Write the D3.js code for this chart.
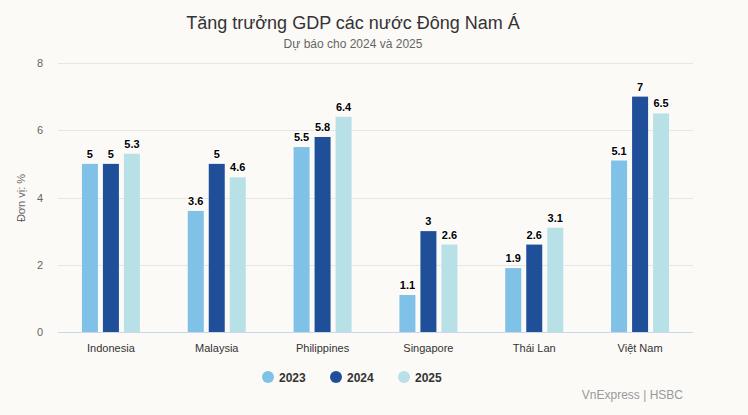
<!DOCTYPE html>
<html><head><meta charset="utf-8">
<script src="https://cdn.jsdelivr.net/npm/d3@7"></script>
<style>
html,body{margin:0;padding:0;background:#fbfaf7;}
svg{display:block;font-family:"Liberation Sans",Arial,sans-serif;}
</style></head>
<body><svg id="c" width="748" height="415"></svg>
<script>
const categories = ["Indonesia","Malaysia","Philippines","Singapore","Thái Lan","Việt Nam"];
const seriesNames = ["2023","2024","2025"];
const v2023 = [5,3.6,5.5,1.1,1.9,5.1];
const v2024 = [5,5,5.8,3,2.6,7];
const v2025 = [5.3,4.6,6.4,2.6,3.1,6.5];
const yTicks = [0,2,4,6,8];
const colors = ["#7fc1e7","#1f4f99","#b7e1e7"];
const series = [v2023,v2024,v2025];

const svg = d3.select("#c");
svg.append("rect").attr("width",748).attr("height",415).attr("fill","#fbfaf7");
const m = {l:58,r:693,t:63,b:332};
const x = d3.scaleBand().domain(categories).range([m.l,m.r]);
const y = d3.scaleLinear().domain([0,8]).range([m.b,m.t]);
const c = x.bandwidth()/2;
const xs = d3.scaleBand().domain(seriesNames).range([c-29,c+29]).paddingInner(0.238).paddingOuter(0);

// title
svg.append("text").attr("x",353).attr("y",29).attr("text-anchor","middle").attr("font-size",18).attr("fill","#333").text("Tăng trưởng GDP các nước Đông Nam Á");
svg.append("text").attr("x",353).attr("y",48).attr("text-anchor","middle").attr("font-size",12).attr("fill","#666").text("Dự báo cho 2024 và 2025");

// grid
const g = svg.append("g");
g.selectAll("line.grid").data(yTicks.filter(d=>d>0)).join("line")
 .attr("x1",m.l).attr("x2",m.r).attr("y1",d=>Math.round(y(d))+0.5).attr("y2",d=>Math.round(y(d))+0.5)
 .attr("stroke","#e6e6e6");
g.selectAll("text.yt").data(yTicks).join("text")
 .attr("x",43).attr("y",d=>y(d)+4).attr("text-anchor","end").attr("font-size",11).attr("fill","#666").text(d=>d);
svg.append("text").attr("transform","translate(25,198) rotate(-90)").attr("text-anchor","middle").attr("font-size",11).attr("fill","#666").text("Đơn vị: %");

// bars
series.forEach((vals,si)=>{
  const sg = svg.append("g");
  sg.selectAll("rect").data(vals).join("rect")
   .attr("x",(d,i)=>x(categories[i])+xs(seriesNames[si]))
   .attr("width",xs.bandwidth())
   .attr("y",d=>y(d)).attr("height",d=>y(0)-y(d))
   .attr("fill",colors[si]);
  sg.selectAll("text").data(vals).join("text")
   .attr("x",(d,i)=>x(categories[i])+xs(seriesNames[si])+xs.bandwidth()/2)
   .attr("y",d=>y(d)-6).attr("text-anchor","middle").attr("font-size",11).attr("font-weight","bold")
   .attr("fill","#000").attr("stroke","#fff").attr("stroke-width",2).attr("paint-order","stroke").attr("stroke-linejoin","round")
   .text(d=>d);
});

// x axis
svg.append("line").attr("x1",m.l).attr("x2",m.r).attr("y1",m.b+0.5).attr("y2",m.b+0.5).attr("stroke","#ccd6eb");
svg.selectAll("text.xl").data(categories).join("text")
 .attr("x",d=>x(d)+x.bandwidth()/2).attr("y",352).attr("text-anchor","middle").attr("font-size",11).attr("fill","#333").text(d=>d);

// legend
const lx = [268,336,404];
seriesNames.forEach((s,i)=>{
  svg.append("circle").attr("cx",lx[i]).attr("cy",377).attr("r",6).attr("fill",colors[i]);
  svg.append("text").attr("x",lx[i]+11).attr("y",381.5).attr("font-size",12).attr("font-weight","bold").attr("fill","#333").text(s);
});
svg.append("text").attr("x",683).attr("y",399).attr("text-anchor","end").attr("font-size",12).attr("fill","#999").text("VnExpress | HSBC");
</script></body></html>
